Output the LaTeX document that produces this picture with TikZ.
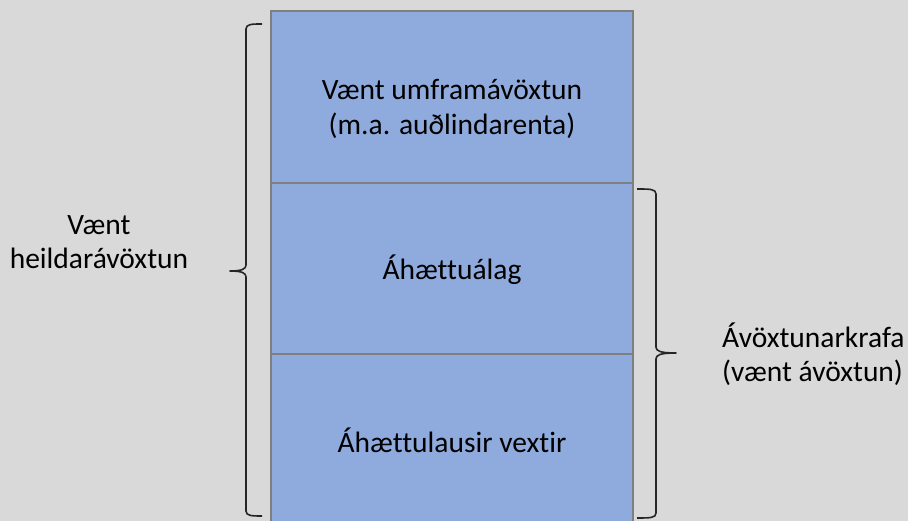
\documentclass[tikz,border=0pt]{standalone}
\usepackage{fontspec}
\setmainfont[Ligatures={NoCommon}]{Carlito}
\definecolor{bgcol}{HTML}{D9D9D9}
\definecolor{cellfill}{HTML}{8FAADC}
\definecolor{cellline}{HTML}{7F7F7F}
\definecolor{bracecol}{HTML}{262626}
\begin{document}
\begin{tikzpicture}[x=1pt,y=1pt,
  cell/.style={draw=cellline, line width=2pt, fill=cellfill, minimum width=362pt, inner sep=0pt, anchor=north},
  celltext/.style={font=\fontsize{29.5}{35}\selectfont, align=center, inner sep=0pt},
  sidetext/.style={font=\fontsize{29.5}{34}\selectfont, inner sep=0pt},
  bracepath/.style={draw=bracecol, line width=1.6pt, line join=round}]
\useasboundingbox (0,0) rectangle (908,521);
\fill[bgcol] (0,0) rectangle (908,521);
\clip (0,0) rectangle (908,521);
% cells
\node[cell, minimum height=172pt] (top) at (452,511) {};
\node[cell, minimum height=171pt] (mid) at (452,339) {};
\node[cell, minimum height=180pt] (bot) at (452,168) {};
% cell texts
\node[celltext] (toptxt) at (452,412) {Vænt umframávöxtun\\(m.a. auðlindarenta)};
\node[celltext] (midtxt) at (452,251) {Áhættuálag};
\node[celltext] (bottxt) at (452,81) {Áhættulausir vextir};
% side texts
\node[sidetext, align=center] (lefttxt) at (99,279) {Vænt\\heildarávöxtun};
\node[sidetext, align=left, anchor=west] (righttxt) at (722,167) {Ávöxtunarkrafa\\(vænt ávöxtun)};
% left brace
\draw[bracepath] (262,497) .. controls (252,497) and (246,497) .. (246,492)
  -- (246,256) .. controls (246,252) and (242,250) .. (230,250)
  .. controls (242,250) and (246,248) .. (246,244)
  -- (246,10) .. controls (246,5) and (252,5) .. (262,5);
% right brace
\draw[bracepath] (637,332) .. controls (650,332) and (656,332) .. (656,327)
  -- (656,174) .. controls (656,170) and (660,168) .. (676,168)
  .. controls (660,168) and (656,166) .. (656,162)
  -- (656,8) .. controls (656,3) and (650,3) .. (637,3);
\end{tikzpicture}
\end{document}
